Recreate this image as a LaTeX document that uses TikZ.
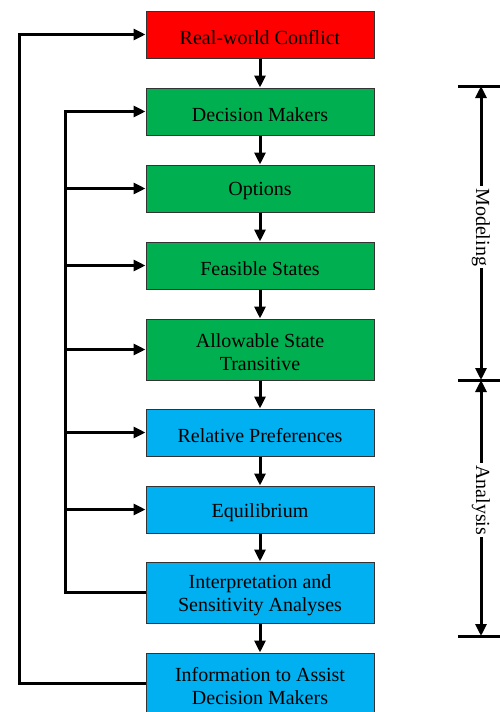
\documentclass[tikz,border=0pt]{standalone}
\usepackage{fontspec}
\setmainfont{Liberation Serif}
\usetikzlibrary{arrows.meta}
\definecolor{cred}{HTML}{FF0000}
\definecolor{cgreen}{HTML}{00B050}
\definecolor{cblue}{HTML}{00B0F0}
\begin{document}
\begin{tikzpicture}[x=0.5pt,y=-0.5pt,
  box/.style={draw=black!80, line width=0.5pt, minimum width=114pt, inner sep=0pt},
  box1/.style={box, minimum height=23.5pt},
  box2/.style={box, minimum height=30.5pt},
  txt/.style={align=center, font=\fontsize{10}{11.5}\selectfont, inner sep=0pt, yshift=-1.4pt},
  arr/.style={line width=1.5pt, -{Triangle[length=6pt,width=5.5pt]}},
  ln/.style={line width=1.5pt},
  lbl/.style={fill=white, rotate=-90, font=\fontsize{10}{11}\selectfont, inner sep=1pt}]
\useasboundingbox (0,0) rectangle (499,712);
\node[box1, fill=cred]   (b1) at (260,34.5)  {};
\node[box1, fill=cgreen] (b2) at (260,111.5) {};
\node[box1, fill=cgreen] (b3) at (260,188.5) {};
\node[box1, fill=cgreen] (b4) at (260,265.5) {};
\node[box2, fill=cgreen] (b5) at (260,349.5) {};
\node[box1, fill=cblue]  (b6) at (260,432.5) {};
\node[box1, fill=cblue]  (b7) at (260,509.5) {};
\node[box2, fill=cblue]  (b8) at (260,592.5) {};
\node[box2, fill=cblue]  (b9) at (260,683.5) {};
\node[txt] (t1) at (b1) {Real-world Conflict};
\node[txt] (t2) at (b2) {Decision Makers};
\node[txt] (t3) at (b3) {Options};
\node[txt] (t4) at (b4) {Feasible States};
\node[txt] (t5) at (b5) {Allowable State\\Transitive};
\node[txt] (t6) at (b6) {Relative Preferences};
\node[txt] (t7) at (b7) {Equilibrium};
\node[txt] (t8) at (b8) {Interpretation and\\Sensitivity Analyses};
\node[txt] (t9) at (b9) {Information to Assist\\Decision Makers};
\foreach \a/\b in {b1/b2,b2/b3,b3/b4,b4/b5,b5/b6,b6/b7,b7/b8,b8/b9}
  \draw[arr] (\a.south) -- (\b.north);
\coordinate (outer) at (19,0);
\coordinate (inner) at (65,0);
\draw[arr] (b9.west) -- (b9.west -| outer) |- (b1.west);
\draw[arr] (b8.west) -- (b8.west -| inner) |- (b2.west);
\foreach \b in {b3,b4,b5,b6,b7}
  \draw[arr] (\b.west -| inner) -- (\b.west);
\coordinate (t1l) at (458,86);  \coordinate (t1r) at (505,86);
\coordinate (t2l) at (458,380); \coordinate (t2r) at (505,380);
\coordinate (t3l) at (458,636); \coordinate (t3r) at (505,636);
\coordinate (m1) at (481,86); \coordinate (m2) at (481,380); \coordinate (m3) at (481,636);
\draw[ln] (t1l) -- (t1r);
\draw[ln] (t2l) -- (t2r);
\draw[ln] (t3l) -- (t3r);
\draw[line width=1.5pt, {Triangle[length=6pt,width=5.5pt]}-{Triangle[length=6pt,width=5.5pt]}] (m1) -- node[lbl, pos=0.48] {Modeling} (m2);
\draw[line width=1.5pt, {Triangle[length=6pt,width=5.5pt]}-{Triangle[length=6pt,width=5.5pt]}] (m2) -- node[lbl, pos=0.47] {Analysis} (m3);
\end{tikzpicture}
\end{document}
